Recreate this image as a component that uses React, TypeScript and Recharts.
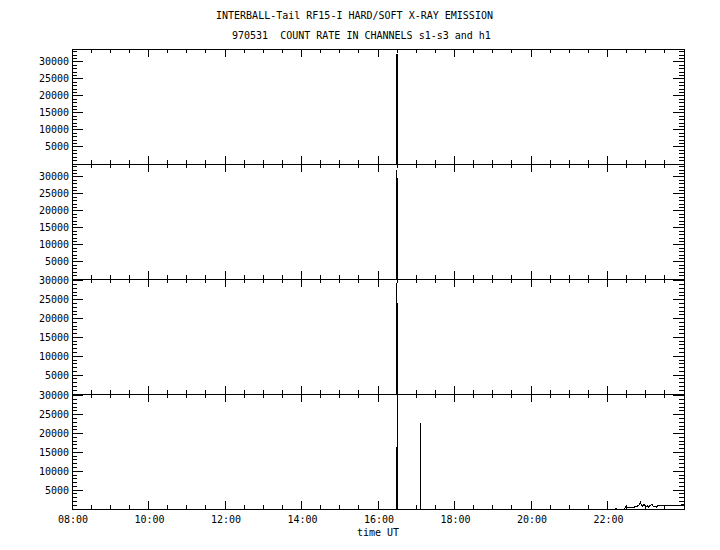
import { LineChart, Line, XAxis, YAxis, ReferenceArea } from "recharts";

const TITLE = "INTERBALL-Tail RF15-I HARD/SOFT X-RAY EMISSION";
const SUBTITLE = "970531  COUNT RATE IN CHANNELS s1-s3 and h1";
const X_TITLE = "time UT";

// hours UT, labelled every 2 hours (24:00 has no label)
const hourTicks = [8, 10, 12, 14, 16, 18, 20, 22];
const hourLabels = ["08:00", "10:00", "12:00", "14:00", "16:00", "18:00", "20:00", "22:00"];
const countLabels = ["5000", "10000", "15000", "20000", "25000", "30000"];

// channel s1
const s1Time = [8, 16.484, 16.484, 16.51, 16.51, 24];
const s1Count = [0, 0, 32300, 32300, 0, 0];

// channel s2
const s2Time = [8, 16.484, 16.484, 16.484, 16.51, 16.51, 24];
const s2Count = [0, 0, 32000, 29400, 29400, 0, 0];

// channel s3
const s3Time = [8, 16.484, 16.484, 16.484, 16.51, 16.51, 24];
const s3Count = [0, 0, 29500, 24100, 24100, 0, 0];

// channel h1
const h1Time = [
  8, 16.484, 16.484, 16.51, 16.51, 16.51, 17.111, 17.111, 17.111,
  22.2, 22.22, 22.24, 22.45, 22.48, 22.5, 22.53, 22.56, 22.6, 22.64, 22.68,
  22.72, 22.76, 22.8, 22.84, 22.86, 22.88, 22.92, 22.96, 23.0, 23.04, 23.08,
  23.12, 23.16, 23.2, 23.24, 23.28, 23.32, 23.36, 23.4, 23.44, 23.48, 23.52,
  23.6, 23.7, 23.8, 23.9, 24,
];
const h1Count = [
  0, 0, 16200, 16200, 30500, 0, 0, 22800, 0,
  0, 260, 0, 0, 700, 300, 400, 350, 500, 450, 400,
  600, 550, 900, 1200, 1800, 1100, 700, 1300, 600, 900, 500,
  1000, 1200, 700, 800, 500, 900, 1000, 900, 1000, 950, 1000,
  1000, 1000, 1000, 1050, 1100,
];

const LEFT = 72;
const RIGHT = 684;
const FONT = "DejaVu Sans Mono";

const panels = [
  { top: 49, bottom: 164, max: 33800, time: s1Time, count: s1Count },
  { top: 164, bottom: 279, max: 33800, time: s2Time, count: s2Count },
  { top: 279, bottom: 394, max: 30500, time: s3Time, count: s3Count },
  { top: 394, bottom: 509, max: 30500, time: h1Time, count: h1Count },
];

const halfHours = Array.from({ length: 33 }, (_, i) => 8 + i * 0.5);

function makeXTick(top: number, bottom: number, labelled: boolean) {
  return (props: any) => {
    const { x, payload } = props;
    const v = payload.value as number;
    const len = v % 2 === 0 ? 8 : 4;
    const idx = hourTicks.indexOf(v);
    return (
      <g>
        <line x1={x} x2={x} y1={top} y2={top + len} stroke="#000" />
        <line x1={x} x2={x} y1={bottom} y2={bottom - len} stroke="#000" />
        {labelled && idx >= 0 && (
          <text x={x + 1} y={523} textAnchor="middle" fontFamily={FONT} fontSize={10} fill="#000">
            {hourLabels[idx]}
          </text>
        )}
      </g>
    );
  };
}

function renderYTick(props: any) {
  const { y, payload } = props;
  const v = payload.value as number;
  const major = v % 5000 === 0;
  const len = major ? 11 : 5;
  const idx = v / 5000 - 1;
  return (
    <g>
      <line x1={LEFT} x2={LEFT + len} y1={y} y2={y} stroke="#000" />
      <line x1={RIGHT} x2={RIGHT - len} y1={y} y2={y} stroke="#000" />
      {major && v > 0 && (
        <text x={69} y={y} dy="0.35em" textAnchor="end" fontFamily={FONT} fontSize={10} fill="#000">
          {countLabels[idx]}
        </text>
      )}
    </g>
  );
}

function Panel({ index }: { index: number }) {
  const p = panels[index];
  const data = p.time.map((t, i) => ({ t, v: p.count[i] }));
  const yTicks = Array.from({ length: Math.floor(p.max / 1000) + 1 }, (_, i) => i * 1000);
  const isLast = index === panels.length - 1;
  return (
    <div style={{ position: "absolute", left: 0, top: 0 }}>
      <LineChart
        width={720}
        height={550}
        data={data}
        margin={{ top: p.top, bottom: 550 - p.bottom - 30, left: LEFT - 60, right: 720 - RIGHT }}
      >
        <XAxis
          dataKey="t"
          type="number"
          domain={[8, 24]}
          ticks={halfHours}
          interval={0}
          height={30}
          axisLine={false}
          tickLine={false}
          tick={makeXTick(p.top, p.bottom, isLast)}
        />
        <YAxis
          type="number"
          domain={[0, p.max]}
          allowDataOverflow
          ticks={yTicks}
          interval={0}
          width={60}
          axisLine={false}
          tickLine={false}
          tick={renderYTick}
        />
        <ReferenceArea x1={8} x2={24} y1={0} y2={p.max} fill="none" stroke="#000" strokeWidth={1} />
        <Line
          type="linear"
          dataKey="v"
          stroke="#000"
          strokeWidth={1}
          dot={false}
          isAnimationActive={false}
        />
      </LineChart>
    </div>
  );
}

export default function App() {
  return (
    <div
      style={{
        position: "absolute",
        left: 0,
        top: 0,
        width: 720,
        height: 550,
        background: "#fff",
        shapeRendering: "crispEdges",
      }}
    >
      {panels.map((_, i) => (
        <Panel key={i} index={i} />
      ))}
      <svg
        width={720}
        height={550}
        style={{ position: "absolute", left: 0, top: 0, pointerEvents: "none" }}
      >
        <text x={216} y={19} fontFamily={FONT} fontSize={10} fill="#000">
          {TITLE}
        </text>
        <text x={232} y={39} fontFamily={FONT} fontSize={10} fill="#000" style={{ whiteSpace: "pre" }}>
          {SUBTITLE}
        </text>
        <text x={378} y={536} textAnchor="middle" fontFamily={FONT} fontSize={10} fill="#000">
          {X_TITLE}
        </text>
      </svg>
    </div>
  );
}
